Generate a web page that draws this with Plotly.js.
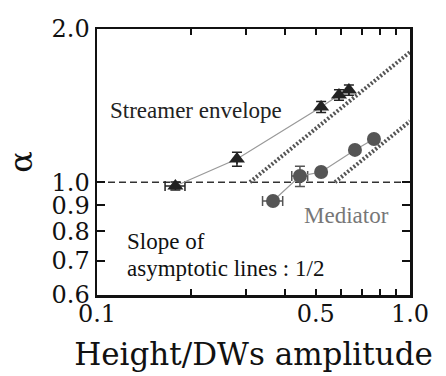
<!DOCTYPE html>
<html><head><meta charset="utf-8">
<script src="https://cdn.plot.ly/plotly-3.0.1.min.js"></script>
<style>html,body{margin:0;padding:0;background:#fff}#chart{width:446px;height:376px}</style>
</head><body><div id="chart"></div>
<script>
// Streamer envelope (triangles)
const streamerX = [0.178, 0.280, 0.520, 0.593, 0.638];
const streamerY = [0.983, 1.110, 1.405, 1.484, 1.517];
const streamerYErr = [0.018, 0.035, 0.035, 0.035, 0.035];
const streamerXErr = [0.013, 0, 0, 0, 0];
// Mediator (circles)
const mediatorX = [0.365, 0.445, 0.520, 0.667, 0.767];
const mediatorY = [0.918, 1.028, 1.047, 1.157, 1.216];
const mediatorYErr = [0.015, 0.047, 0.02, 0.02, 0.02];
const mediatorXErr = [0.027, 0.026, 0, 0, 0];
// Reference line alpha = 1
const refX = [0.1, 1.0];
const refY = [1.0, 1.0];
// Asymptotic lines (slope 1/2)
const asymUpperX = [0.308, 1.0];
const asymUpperY = [1.0, 1.802];
const asymLowerX = [0.576, 1.0];
const asymLowerY = [1.0, 1.318];
// Ticks
const xTickVals = [0.1,0.2,0.3,0.4,0.5,0.6,0.7,0.8,0.9,1.0];
const xTickText = ['0.1','','','','0.5','','','','','1.0'];
const yTickVals = [0.6,0.7,0.8,0.9,1.0,2.0];
const yTickText = ['0.6','0.7','0.8','0.9','1.0','2.0'];

const serif = 'DejaVu Serif, serif';
const times = 'Liberation Serif, Times New Roman, serif';

const traces = [
  {x: refX, y: refY, mode: 'lines', line: {color: '#333', width: 1.5, dash: '7px,4px'}, hoverinfo: 'skip'},
  {x: asymUpperX, y: asymUpperY, mode: 'lines', line: {color: '#555', width: 4, dash: '2px,2px'}},
  {x: asymLowerX, y: asymLowerY, mode: 'lines', line: {color: '#555', width: 4, dash: '2px,2px'}},
  {x: streamerX, y: streamerY, mode: 'lines+markers', name: 'Streamer envelope',
   line: {color: '#999', width: 1.2},
   marker: {symbol: 'triangle-up', size: 14, color: '#222'},
   error_y: {type: 'data', array: streamerYErr, color: '#222', thickness: 1.5, width: 5},
   error_x: {type: 'data', array: streamerXErr, color: '#222', thickness: 1.5, width: 5}},
  {x: mediatorX, y: mediatorY, mode: 'lines+markers', name: 'Mediator',
   line: {color: '#999', width: 1.2},
   marker: {symbol: 'circle', size: 14, color: '#555'},
   error_y: {type: 'data', array: mediatorYErr, color: '#555', thickness: 1.5, width: 5},
   error_x: {type: 'data', array: mediatorXErr, color: '#555', thickness: 1.5, width: 5}}
];

const layout = {
  width: 446, height: 376,
  margin: {l: 97, r: 36, t: 29, b: 81},
  paper_bgcolor: '#fff', plot_bgcolor: '#fff',
  showlegend: false,
  xaxis: {type: 'log', range: [-1, 0], tickmode: 'array', tickvals: xTickVals, ticktext: xTickText,
    ticks: 'inside', ticklen: 6, tickwidth: 2, tickcolor: '#111', showline: true, linewidth: 2.5, linecolor: '#111',
    mirror: 'ticks', showgrid: false, zeroline: false, ticklabelstandoff: -4,
    tickfont: {family: serif, size: 24, color: '#111'},
    title: {text: 'Height/DWs amplitude', font: {family: serif, size: 31, color: '#111'}, standoff: 16}},
  yaxis: {type: 'log', range: [Math.log10(0.6), Math.log10(2.0)], tickmode: 'array', tickvals: yTickVals, ticktext: yTickText,
    ticks: 'inside', ticklen: 8, tickwidth: 2, tickcolor: '#111', showline: true, linewidth: 2.5, linecolor: '#111',
    mirror: 'ticks', showgrid: false, zeroline: false, tickfont: {family: serif, size: 24, color: '#111'},
    title: {text: 'α', font: {family: serif, size: 32, color: '#111'}, standoff: 10}},
  annotations: [
    {xref: 'paper', yref: 'paper', x: 0.035, y: 0.695, xanchor: 'left', yanchor: 'middle', showarrow: false,
     text: 'Streamer envelope', font: {family: times, size: 23, color: '#222'}},
    {xref: 'paper', yref: 'paper', x: 0.655, y: 0.30, xanchor: 'left', yanchor: 'middle', showarrow: false,
     text: 'Mediator', font: {family: times, size: 23, color: '#777'}},
    {xref: 'paper', yref: 'paper', x: 0.09, y: 0.203, xanchor: 'left', yanchor: 'middle', showarrow: false,
     text: 'Slope of', font: {family: times, size: 23, color: '#111'}},
    {xref: 'paper', yref: 'paper', x: 0.09, y: 0.10, xanchor: 'left', yanchor: 'middle', showarrow: false,
     text: 'asymptotic lines : 1/2', font: {family: times, size: 23, color: '#111'}}
  ]
};

Plotly.newPlot('chart', traces, layout, {displayModeBar: false, staticPlot: true});
</script></body></html>
